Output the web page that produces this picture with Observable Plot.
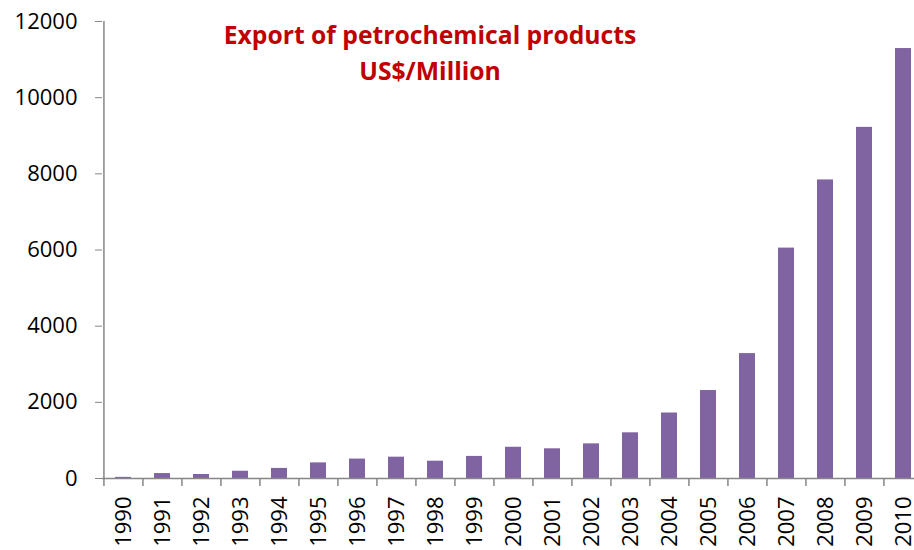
<!DOCTYPE html>
<html>
<head>
<meta charset="utf-8">
<script src="https://cdn.jsdelivr.net/npm/d3@7"></script>
<script src="https://cdn.jsdelivr.net/npm/@observablehq/plot@0.6"></script>
<style>
  html, body { margin: 0; padding: 0; background: #fff; }
  #wrap { position: relative; width: 914px; height: 550px; overflow: hidden; }
  #title { position: absolute; left: 180px; width: 500px; top: 17px; text-align: center;
    font-family: "Open Sans", sans-serif; font-weight: bold; font-size: 24.7px; line-height: 36px; color: #C00000; }
</style>
</head>
<body>
<div id="wrap">
  <div id="chart"></div>
  <div id="title">Export of petrochemical products<br>US$/Million</div>
</div>
<script>
const years = ["1990","1991","1992","1993","1994","1995","1996","1997","1998","1999","2000",
  "2001","2002","2003","2004","2005","2006","2007","2008","2009","2010"];
const exportsMillion = [30, 130, 105, 190, 265, 410, 510, 560, 455, 580, 820,
  780, 910, 1200, 1720, 2310, 3280, 6050, 7840, 9220, 11290];
const yTicks = [0, 2000, 4000, 6000, 8000, 10000, 12000];

const data = years.map((y, i) => ({year: y, value: exportsMillion[i]}));

const W = 914, H = 550, mL = 102, mR = -10, mT = 21, mB = 72;
const half = (W - mL - mR) / years.length / 2;
const gray = "#868686";
const font = "'Open Sans', sans-serif";

const chart = Plot.plot({
  width: W, height: H,
  marginLeft: mL, marginRight: mR, marginTop: mT, marginBottom: mB,
  style: {fontFamily: font, background: "transparent", overflow: "visible"},
  x: {type: "band", domain: years, paddingInner: 0.6, paddingOuter: 0.3, align: 0.5, label: null},
  y: {domain: [0, 12000], label: null},
  marks: [
    Plot.barY(data, {x: "year", y: "value", fill: "#8064A2"}),
    Plot.ruleY([0], {stroke: gray, strokeWidth: 1.5}),
    Plot.ruleX([years[0]], {dx: -half, y1: 0, y2: 12000, stroke: gray, strokeWidth: 1.5}),
    Plot.axisY({ticks: yTicks, tickSize: 7, tickPadding: 18, fontSize: 22, stroke: gray, fill: "black", label: null, tickFormat: d => String(d)}),
    Plot.axisX({tickSize: 8, tickFormat: () => "", dx: -half, stroke: gray, strokeWidth: 1.5, label: null}),
    Plot.axisX({tickSize: 0, tickPadding: 18, tickRotate: -90, fontSize: 22, fill: "black", label: null})
  ]
});
document.getElementById("chart").appendChild(chart);
</script>
</body>
</html>
